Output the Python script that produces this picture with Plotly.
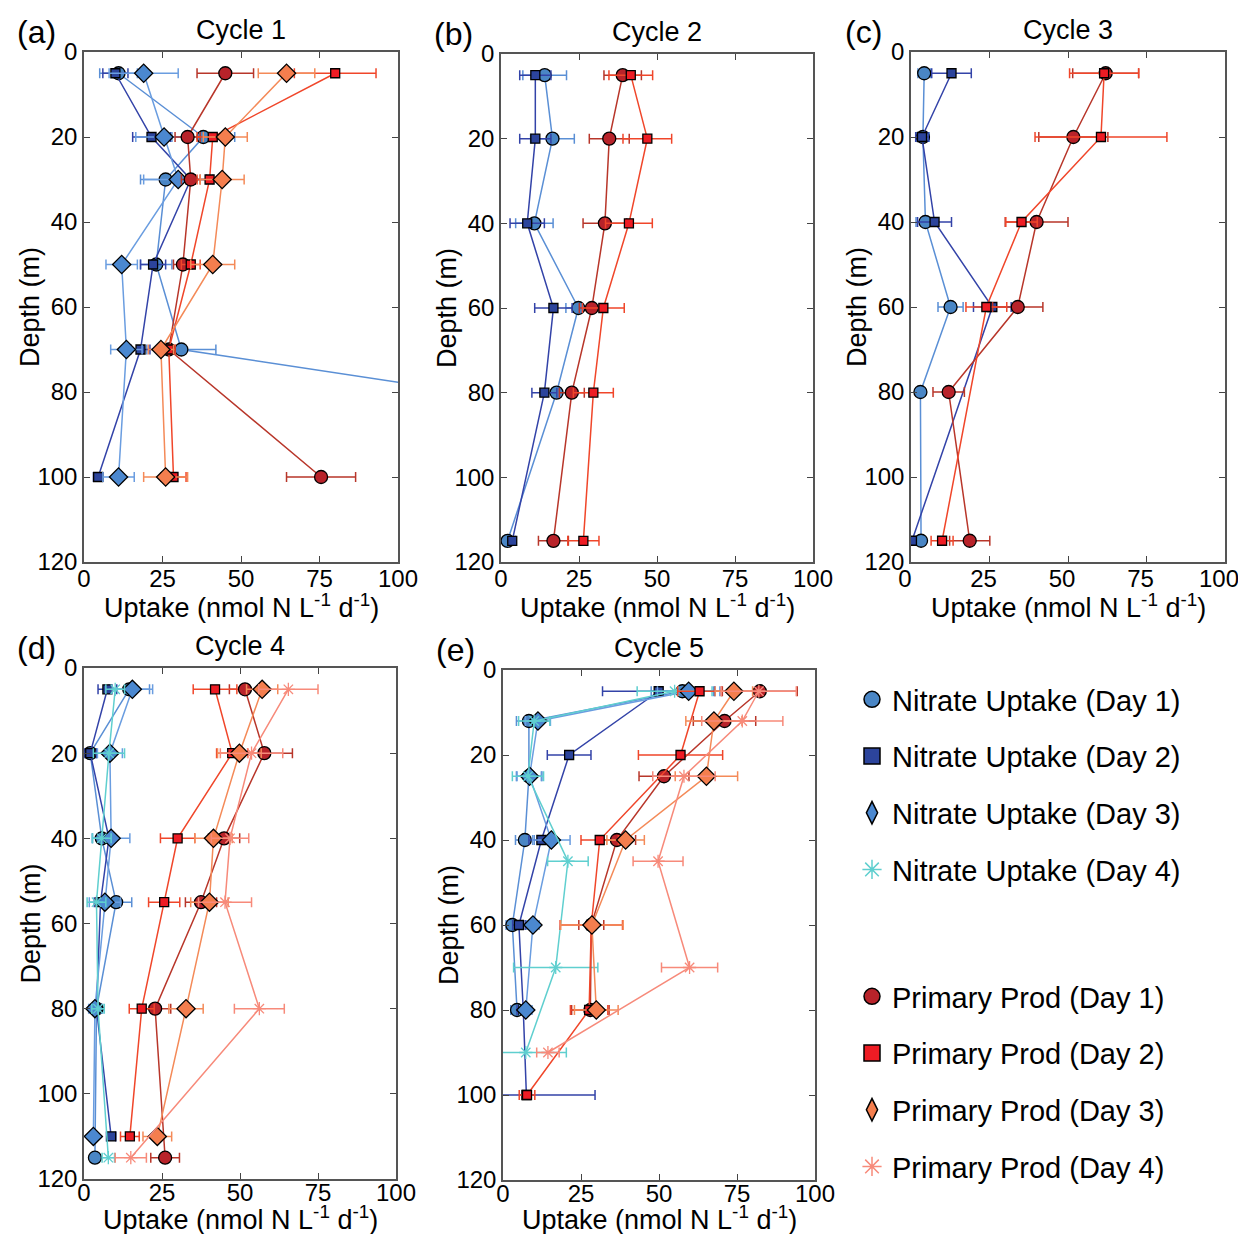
import plotly.graph_objects as go

FONT = "Arial, Liberation Sans, sans-serif"

# ---------------- Cycle 1 ----------------
c1_depth = [5, 20, 30, 50, 70, 100]
c1_n1 = [11, 38, 26, 23, 31, 300]
c1_n1_err = [6, 10, 8, 5, 11, 0]
c1_n2 = [10, 21.5, 34, 22, 18, 4.5]
c1_n2_err = [4, 6, 5, 4, 3, 1.5]
c1_n3 = [19, 25.5, 30, 12, 13.5, 11]
c1_n3_err = [11, 9, 11, 5, 5, 5]
c1_p1 = [45, 33, 34, 31.5, 27, 75.5]
c1_p1_err = [9, 4, 3, 3, 2, 11]
c1_p2 = [80, 41, 40, 34, 27, 28.5]
c1_p2_err = [13, 5, 4, 3, 2, 4]
c1_p3 = [64.5, 45, 44, 41, 24.5, 26]
c1_p3_err = [9, 7, 7, 7, 4, 7]

# ---------------- Cycle 2 ----------------
c2_depth = [5, 20, 40, 60, 80, 115]
c2_n1 = [14, 16.5, 10.7, 24.8, 17.8, 2.1]
c2_n1_err = [7, 7, 6, 4, 4, 1]
c2_n2 = [11, 11, 8.4, 16.8, 13.9, 3.6]
c2_n2_err = [5, 5, 5.5, 6, 4, 1]
c2_p1 = [39, 34.7, 33.3, 29.1, 22.7, 16.8]
c2_p1_err = [6, 6.4, 7, 4, 4, 4.8]
c2_p2 = [41.6, 46.9, 41, 32.8, 29.6, 26.4]
c2_p2_err = [7, 7.8, 7.5, 6.7, 6.4, 5]

# ---------------- Cycle 3 ----------------
c3_depth_a = [5, 20, 40, 60, 80, 115]
c3_depth_b = [5, 20, 40, 60, 115]
c3_n1 = [4.2, 3.8, 4.6, 12.6, 3, 3.2]
c3_n1_err = [2, 2, 3, 4, 0.5, 1]
c3_n2 = [12.9, 3.5, 7.5, 25.9, 0.3]
c3_n2_err = [6.3, 2, 5.4, 6, 1]
c3_p1 = [62, 51.7, 40, 34, 12, 18.7]
c3_p1_err = [10.5, 11, 10, 8, 5, 6.4]
c3_p2 = [61.5, 60.5, 35.2, 24, 9.9]
c3_p2_err = [11, 21, 5, 6.5, 3.5]

# ---------------- Cycle 4 ----------------
c4_depth_a = [5, 20, 40, 55, 80, 115]
c4_depth_b = [5, 20, 40, 55, 80, 110]
c4_n1 = [14.5, 2, 5.7, 10.3, 4, 3.5]
c4_n1_err = [6.5, 2, 3, 5, 2, 1]
c4_n2 = [7.5, 2, 8, 5.3, 4, 8.7]
c4_n2_err = [3, 2, 2, 2, 1.5, 1.5]
c4_n3 = [15.5, 8.3, 8.7, 6.7, 3.5, 3]
c4_n3_err = [6.5, 4, 6, 5, 2, 1]
c4_n4 = [10, 8, 5.7, 4, 4.5, 7.8]
c4_n4_err = [3, 5, 3, 3, 2, 2]
c4_p1 = [51.6, 57.8, 44.9, 37.5, 22.8, 26]
c4_p1_err = [5, 9, 5, 5, 5, 4.6]
c4_p2 = [42, 47.5, 30, 25.7, 18.5, 14.7]
c4_p2_err = [7, 5, 5.5, 5, 4, 3]
c4_p3 = [57.1, 49.8, 41.5, 40.2, 32.7, 23.5]
c4_p3_err = [5, 7, 6, 6, 5.5, 4.6]
c4_p4 = [65.5, 53.7, 46.8, 45.2, 56.2, 15]
c4_p4_err = [9.5, 10, 6, 8.5, 8, 5]

# ---------------- Cycle 5 ----------------
c5_depth_a = [5, 12, 25, 40, 60, 80]
c5_depth_b = [5, 20, 40, 60, 80, 100]
c5_depth_c = [5, 12, 25, 45, 70, 90]
c5_n1 = [57.5, 8.3, 8.3, 7, 3, 4.5]
c5_n1_err = [10, 4, 4, 3, 2, 2]
c5_n2 = [49.9, 21.2, 12.3, 5.1, 6.5, 7.5]
c5_n2_err = [18, 7, 4, 2, 2, 22]
c5_n3 = [59.5, 11.2, 8.5, 15.5, 9.6, 7.3]
c5_n3_err = [10, 4, 4, 6, 2, 2]
c5_n4 = [55, 10, 8, 20.8, 16.9, 7.3]
c5_n4_err = [12, 5, 5, 6.5, 13.5, 13]
c5_p1 = [82.3, 71, 51.6, 36.5, 28.3, 28]
c5_p1_err = [12, 10, 8, 6, 4, 6]
c5_p2 = [63, 56.9, 31, 28.3, 27.6, 7.7]
c5_p2_err = [7, 13.5, 6, 10, 6, 2.5]
c5_p3 = [74, 67.6, 65.2, 39.3, 28.5, 29.9]
c5_p3_err = [6, 9, 10, 6, 10, 7]
c5_p4 = [82, 76.7, 58, 49.7, 59.8, 14.4]
c5_p4_err = [12, 13, 10, 8, 9, 3.6]

x_ticks = [0, 25, 50, 75, 100]
y_ticks = [0, 20, 40, 60, 80, 100, 120]
cycle_titles = ["Cycle 1", "Cycle 2", "Cycle 3", "Cycle 4", "Cycle 5"]
panel_letters = ["(a)", "(b)", "(c)", "(d)", "(e)"]

STYLE = {
    "N1": dict(name="Nitrate Uptake (Day 1)", symbol="circle", size=13, fill="#4a86c5", line="#5a8fd5"),
    "N2": dict(name="Nitrate Uptake (Day 2)", symbol="square", size=9, fill="#2c449c", line="#3343a8"),
    "N3": dict(name="Nitrate Uptake (Day 3)", symbol="diamond", size=14, fill="#4b88d0", line="#6a9de0"),
    "N4": dict(name="Nitrate Uptake (Day 4)", symbol="asterisk-open", size=11, fill="#5fcfcf", line="#5fcfcf"),
    "P1": dict(name="Primary Prod (Day 1)", symbol="circle", size=13, fill="#b8232a", line="#b8362a"),
    "P2": dict(name="Primary Prod (Day 2)", symbol="square", size=9, fill="#ee1c24", line="#f0462a"),
    "P3": dict(name="Primary Prod (Day 3)", symbol="diamond", size=14, fill="#f47e4e", line="#f48a58"),
    "P4": dict(name="Primary Prod (Day 4)", symbol="asterisk-open", size=11, fill="#f78a7a", line="#f78a7a"),
}

panels = [
    [("N1", c1_depth, c1_n1, c1_n1_err), ("N2", c1_depth, c1_n2, c1_n2_err), ("N3", c1_depth, c1_n3, c1_n3_err),
     ("P1", c1_depth, c1_p1, c1_p1_err), ("P2", c1_depth, c1_p2, c1_p2_err), ("P3", c1_depth, c1_p3, c1_p3_err)],
    [("N1", c2_depth, c2_n1, c2_n1_err), ("N2", c2_depth, c2_n2, c2_n2_err),
     ("P1", c2_depth, c2_p1, c2_p1_err), ("P2", c2_depth, c2_p2, c2_p2_err)],
    [("N1", c3_depth_a, c3_n1, c3_n1_err), ("N2", c3_depth_b, c3_n2, c3_n2_err),
     ("P1", c3_depth_a, c3_p1, c3_p1_err), ("P2", c3_depth_b, c3_p2, c3_p2_err)],
    [("N1", c4_depth_a, c4_n1, c4_n1_err), ("N2", c4_depth_b, c4_n2, c4_n2_err),
     ("N3", c4_depth_b, c4_n3, c4_n3_err), ("N4", c4_depth_a, c4_n4, c4_n4_err),
     ("P1", c4_depth_a, c4_p1, c4_p1_err), ("P2", c4_depth_b, c4_p2, c4_p2_err),
     ("P3", c4_depth_b, c4_p3, c4_p3_err), ("P4", c4_depth_a, c4_p4, c4_p4_err)],
    [("N1", c5_depth_a, c5_n1, c5_n1_err), ("N2", c5_depth_b, c5_n2, c5_n2_err),
     ("N3", c5_depth_a, c5_n3, c5_n3_err), ("N4", c5_depth_c, c5_n4, c5_n4_err),
     ("P1", c5_depth_a, c5_p1, c5_p1_err), ("P2", c5_depth_b, c5_p2, c5_p2_err),
     ("P3", c5_depth_a, c5_p3, c5_p3_err), ("P4", c5_depth_c, c5_p4, c5_p4_err)],
]

# Page has an 8px body margin; figure sized so that it fits the 1246x1242 window.
OFF = 8
FW, FH = 1238, 1226

# panel boxes in window pixels: (left, right, top, bottom)
boxes = [(84, 398, 52, 562), (501, 813, 54, 562), (911, 1225, 52, 562),
         (84, 396, 668, 1179), (503, 815, 670, 1180)]
label_shift = [0, 0, -6, 0, 0]
label_standoff = [-6, -6, -6, -9, -9]


def px(x):
    return (x - OFF) / FW


def py(y):
    return 1 - (y - OFF) / FH


fig = go.Figure()

for i, series in enumerate(panels):
    ax = "" if i == 0 else str(i + 1)
    for key, depth, vals, err in series:
        s = STYLE[key]
        star = s["symbol"].startswith("asterisk")
        fig.add_trace(go.Scatter(
            x=vals, y=depth, mode="lines+markers",
            xaxis="x" + ax, yaxis="y" + ax, showlegend=False,
            line=dict(color=s["line"], width=1.5),
            marker=dict(symbol=s["symbol"], size=s["size"], color=s["fill"],
                        line=dict(color=s["fill"] if star else "black", width=1.3)),
            error_x=dict(type="data", array=err, visible=True, color=s["line"],
                         thickness=1.5, width=5),
        ))

# legend-only entries
for key, s in STYLE.items():
    star = s["symbol"].startswith("asterisk")
    sym = "diamond-tall" if s["symbol"] == "diamond" else s["symbol"]
    fig.add_trace(go.Scatter(
        x=[None], y=[None], mode="markers", name=s["name"],
        legend="legend" if key.startswith("N") else "legend2", legendgroup=key,
        marker=dict(symbol=sym, size=16, color=s["fill"],
                    line=dict(color=s["fill"] if star else "black", width=1.5)),
    ))

layout = dict(
    width=FW, height=FH, margin=dict(l=0, r=0, t=0, b=0, autoexpand=False), autosize=False,
    paper_bgcolor="white", plot_bgcolor="white",
    font=dict(family=FONT, color="black"),
    legend=dict(x=px(852), y=py(674), xanchor="left", yanchor="top",
                font=dict(size=29, family=FONT), traceorder="grouped",
                tracegroupgap=16, bgcolor="rgba(0,0,0,0)"),
    legend2=dict(x=px(852), y=py(971), xanchor="left", yanchor="top",
                 font=dict(size=29, family=FONT), traceorder="grouped",
                 tracegroupgap=16, bgcolor="rgba(0,0,0,0)"),
)

annotations = []


def note(x, y, text, size, angle=0):
    annotations.append(dict(x=px(x), y=py(y), xref="paper", yref="paper",
                            xanchor="center", yanchor="middle", text=text,
                            textangle=angle, showarrow=False,
                            font=dict(size=size, family=FONT, color="black")))


for i, (l, r, t, b) in enumerate(boxes):
    ax = "" if i == 0 else str(i + 1)
    layout["xaxis" + ax] = dict(
        domain=[px(l), px(r)], range=[0, 100], anchor="y" + ax, automargin=False,
        tickvals=x_ticks, ticks="inside", ticklen=6, mirror="ticks",
        ticklabeloverflow="allow", ticklabelstandoff=label_standoff[i],
        ticklabelshift=label_shift[i],
        showline=True, linecolor="#555", linewidth=1.5, showgrid=False, zeroline=False,
        tickfont=dict(size=24, family=FONT), fixedrange=True)
    layout["yaxis" + ax] = dict(
        domain=[py(b), py(t)], range=[120, 0], anchor="x" + ax, automargin=False,
        tickvals=y_ticks, ticks="inside", ticklen=6, mirror="ticks",
        ticklabeloverflow="allow",
        showline=True, linecolor="#555", linewidth=1.5, showgrid=False, zeroline=False,
        tickfont=dict(size=24, family=FONT), fixedrange=True)
    cx = (l + r) / 2
    cy = (t + b) / 2
    note(cx, t - 22, cycle_titles[i], 27)
    note(l - 48, t - 20, panel_letters[i], 32)
    note(l - 54, cy, "Depth (m)", 27, -90)
    note(cx, min(b + 44, 1218), "Uptake (nmol N L<sup>-1</sup> d<sup>-1</sup>)", 27)

layout["annotations"] = annotations
fig.update_layout(**layout)
fig.write_html("out.html")
